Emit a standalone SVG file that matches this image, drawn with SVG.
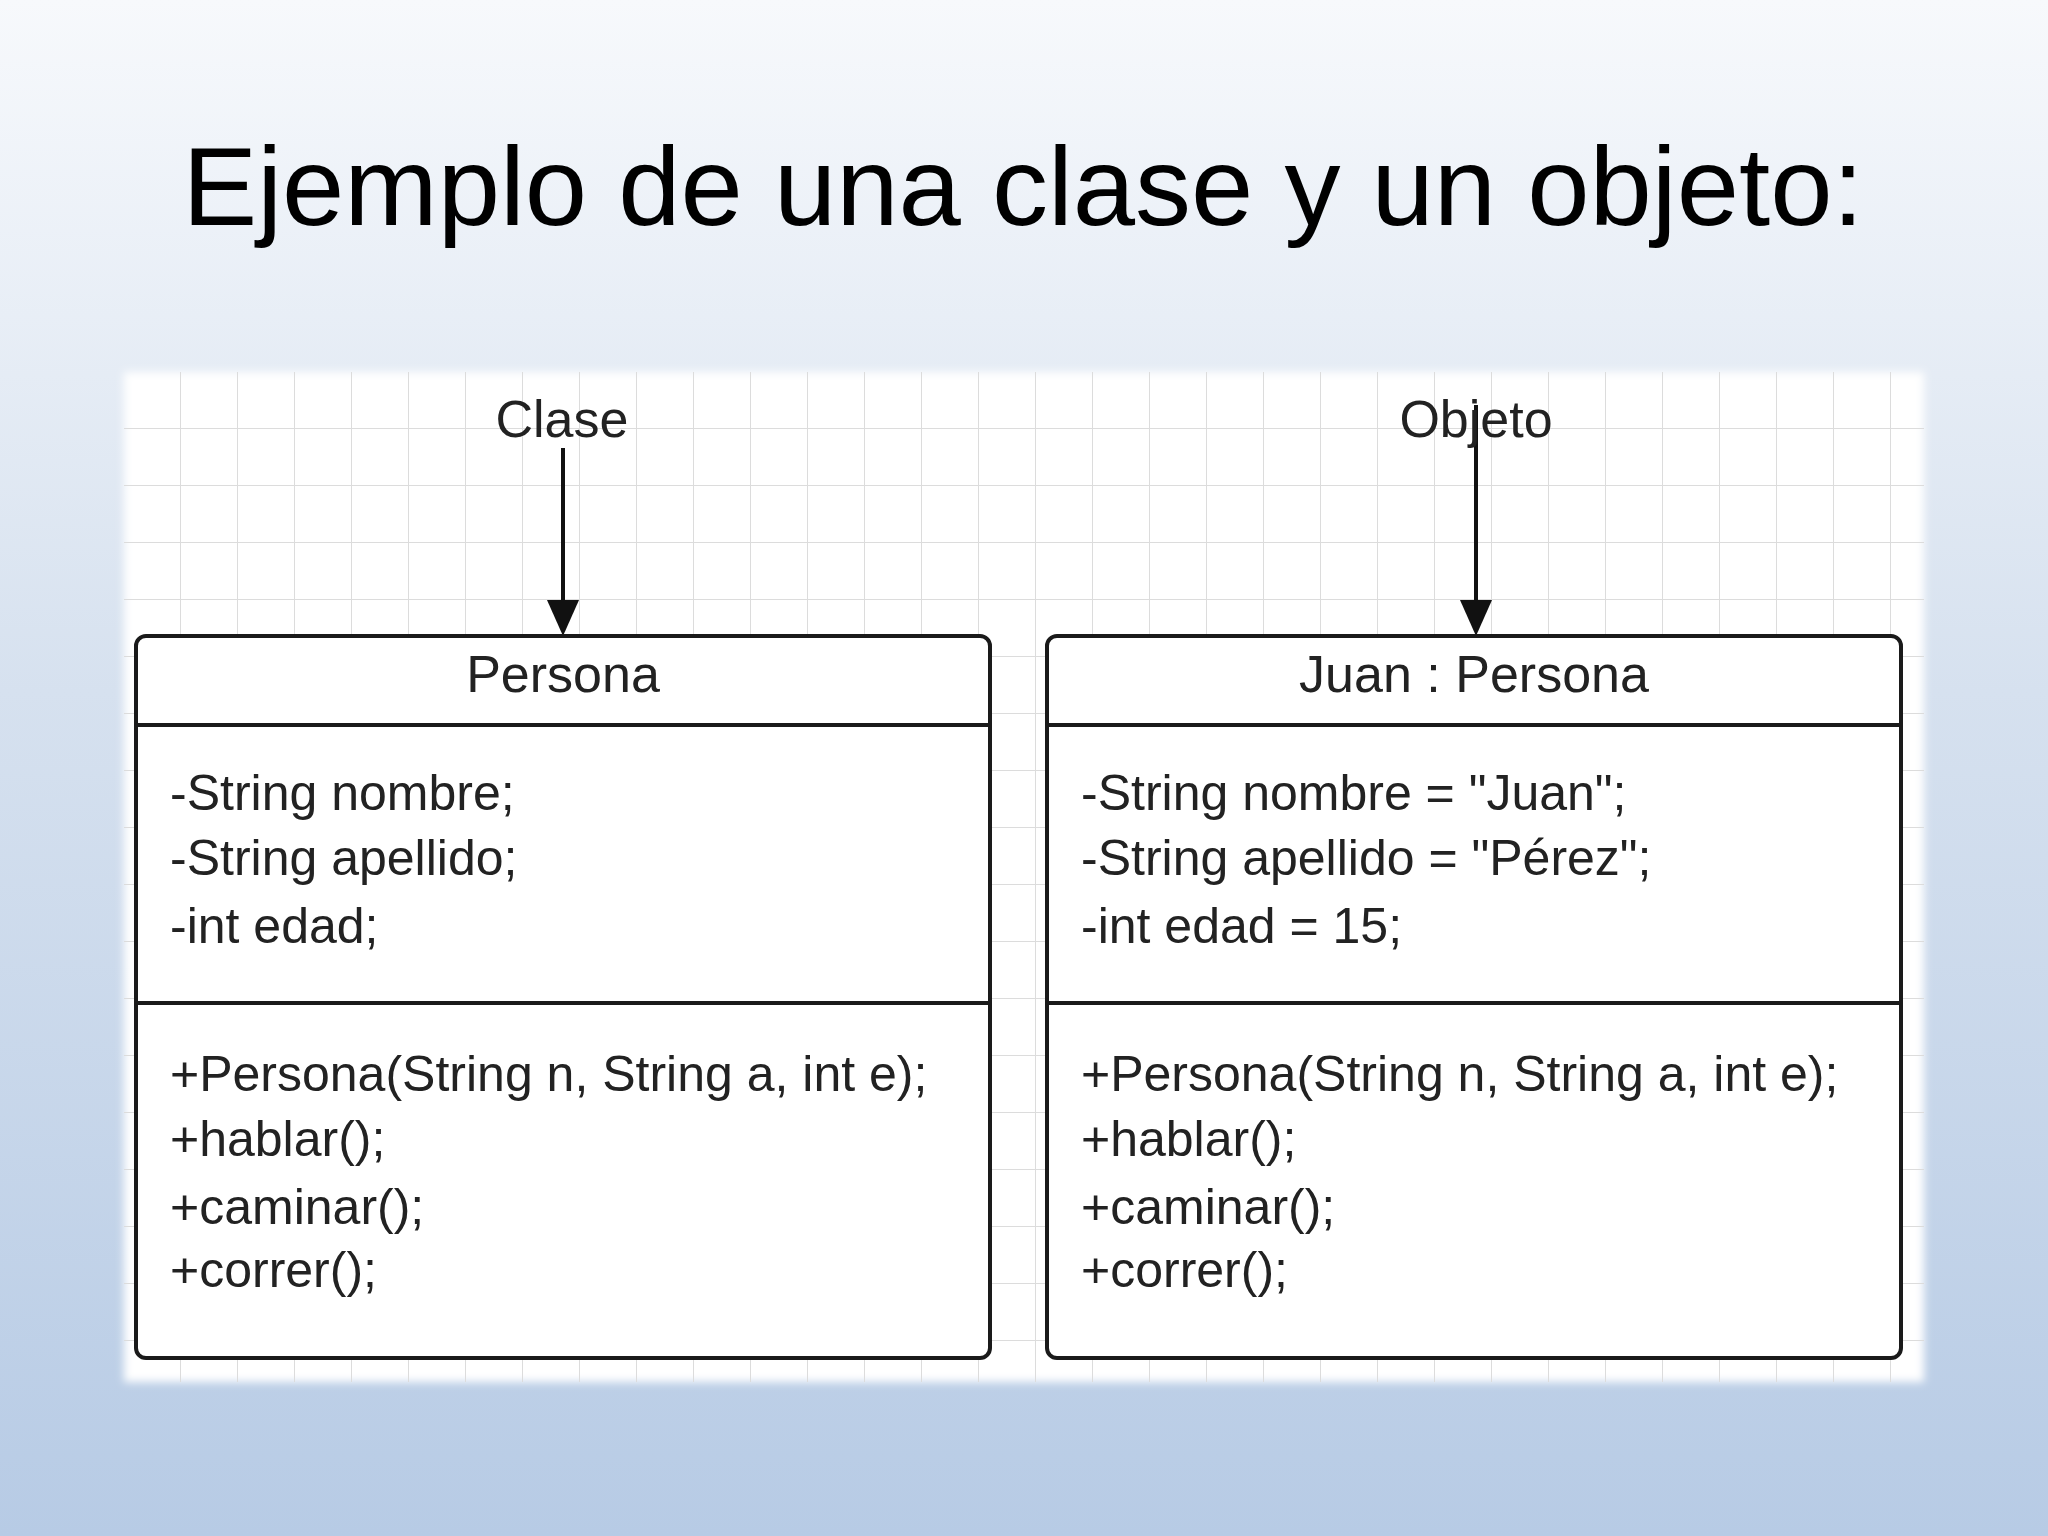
<svg xmlns="http://www.w3.org/2000/svg" width="2048" height="1536" viewBox="0 0 2048 1536">
<defs>
<linearGradient id="bg" x1="0" y1="0" x2="0" y2="1">
<stop offset="0" stop-color="#f7f9fc"/><stop offset="0.45" stop-color="#d6e1ef"/><stop offset="1" stop-color="#b7cbe5"/>
</linearGradient>
<pattern id="grid" x="124" y="372" width="57" height="57" patternUnits="userSpaceOnUse">
<path d="M57 0V57M0 57H57" fill="none" stroke="#dcdcdc" stroke-width="2"/>
</pattern>
<marker id="ah" viewBox="0 0 10 10" refX="10" refY="5" markerWidth="10" markerHeight="16" markerUnits="userSpaceOnUse" orient="auto">
</marker>
<filter id="soft"><feGaussianBlur stdDeviation="4"/></filter>
<style>
text{font-family:"Liberation Sans",Arial,sans-serif;fill:#222}
.lbl{font-size:52px;text-anchor:middle}
.mem{font-size:50px}
.box{fill:#fff;stroke:#1a1a1a;stroke-width:4}
.div{stroke:#1a1a1a;stroke-width:4}
.arr{stroke:#111;stroke-width:4}
</style>
</defs>
<rect width="2048" height="1536" fill="url(#bg)"/>
<text x="1023" y="225" text-anchor="middle" style="font-size:112px;fill:#000">Ejemplo de una clase y un objeto:</text>
<rect x="124" y="372" width="1800" height="1010" fill="#fff" filter="url(#soft)"/>
<rect x="124" y="372" width="1800" height="1010" fill="url(#grid)"/>
<g id="connectors">
<line class="arr" x1="563" y1="448" x2="563" y2="600"/>
<polygon points="547,600 579,600 563,636" fill="#111"/>
<line class="arr" x1="1476" y1="405" x2="1476" y2="600"/>
<polygon points="1460,600 1492,600 1476,636" fill="#111"/>
</g>
<g id="label-clase"><text class="lbl" x="562" y="437">Clase</text></g>
<g id="label-objeto"><text class="lbl" x="1476" y="437">Objeto</text></g>
<g id="persona">
<rect class="box" x="136" y="636" width="854" height="722" rx="10"/>
<line class="div" x1="136" y1="725" x2="990" y2="725"/>
<line class="div" x1="136" y1="1003" x2="990" y2="1003"/>
<text class="lbl" x="563" y="692">Persona</text>
<text class="mem" x="170" y="810">-String nombre;</text>
<text class="mem" x="170" y="875">-String apellido;</text>
<text class="mem" x="170" y="943">-int edad;</text>
<text class="mem" x="170" y="1091">+Persona(String n, String a, int e);</text>
<text class="mem" x="170" y="1156">+hablar();</text>
<text class="mem" x="170" y="1224">+caminar();</text>
<text class="mem" x="170" y="1287">+correr();</text>
</g>
<g id="juan">
<rect class="box" x="1047" y="636" width="854" height="722" rx="10"/>
<line class="div" x1="1047" y1="725" x2="1901" y2="725"/>
<line class="div" x1="1047" y1="1003" x2="1901" y2="1003"/>
<text class="lbl" x="1474" y="692">Juan : Persona</text>
<text class="mem" x="1081" y="810">-String nombre = "Juan";</text>
<text class="mem" x="1081" y="875">-String apellido = "Pérez";</text>
<text class="mem" x="1081" y="943">-int edad = 15;</text>
<text class="mem" x="1081" y="1091">+Persona(String n, String a, int e);</text>
<text class="mem" x="1081" y="1156">+hablar();</text>
<text class="mem" x="1081" y="1224">+caminar();</text>
<text class="mem" x="1081" y="1287">+correr();</text>
</g>
</svg>
